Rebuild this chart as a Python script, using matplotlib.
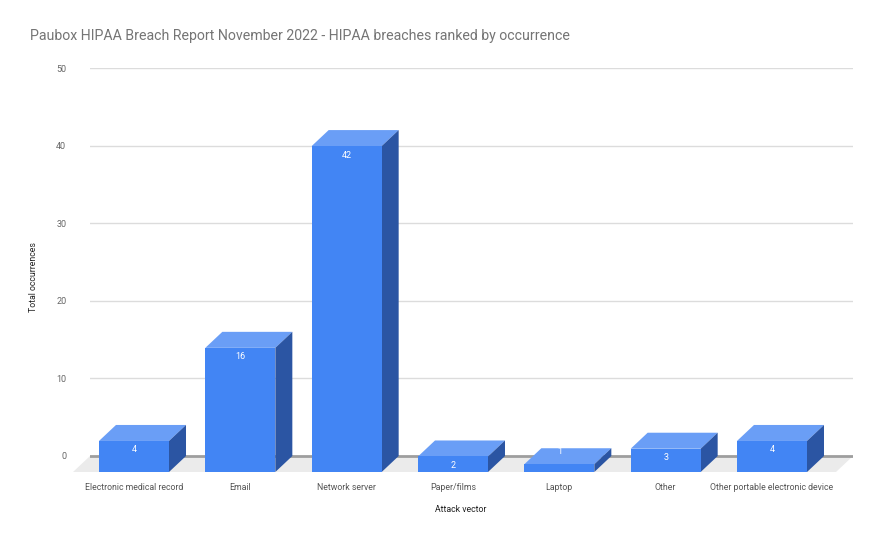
import numpy as np
import matplotlib
matplotlib.use("Agg")
from matplotlib import pyplot as plt
from matplotlib.patches import Polygon

# chart data
categories = ["Electronic medical record", "Email", "Network server", "Paper/films",
              "Laptop", "Other", "Other portable electronic device"]
occurrences = [4, 16, 42, 2, 1, 3, 4]
y_ticks = [0, 10, 20, 30, 40, 50]

plt.rcParams['font.family'] = ['Roboto', 'DejaVu Sans']

W, H = 880, 542
fig = plt.figure(figsize=(W / 100, H / 100), dpi=100)

# plot area in pixels: back wall 0 at y=456, 50 at y=68
px_left, px_right = 90, 853
ylo, yhi = -3, 50
px_per_unit = (456 - 68) / 50.0
px_top = 68
px_bottom = 456 - ylo * px_per_unit
ax = fig.add_axes([px_left / W, 1 - px_bottom / H,
                   (px_right - px_left) / W, (px_bottom - px_top) / H])

spacing = 106.33
DX = 17 / spacing          # depth offset (x, category units)
DY = 16 / px_per_unit      # depth offset (y, value units)
bw = 70 / spacing          # bar width
xmin = -(151 - px_left) / spacing
xmax = 6 + (px_right - 789) / spacing
ax.set_xlim(xmin, xmax)
ax.set_ylim(ylo, yhi)

for s in ax.spines.values():
    s.set_visible(False)

# floor
ax.add_patch(Polygon([(xmin, 0), (xmax, 0), (xmax - DX, -DY), (xmin - DX, -DY)],
                     closed=True, facecolor="#ebebeb", edgecolor="none", zorder=0,
                     clip_on=False))
for t in y_ticks[1:]:
    ax.axhline(t, color="#dcdcdc", lw=1, zorder=1)
ax.axhline(0, color="#9e9e9e", lw=2, zorder=1)

front_c, top_c, side_c = "#4285f4", "#6a9ef6", "#2b55a3"
for i, v in enumerate(occurrences):
    xl = i - DX - bw / 2
    xr = i - DX + bw / 2
    fb = -DY
    ft = v - DY
    ax.add_patch(Polygon([(xl, ft), (xr, ft), (xr + DX, ft + DY), (xl + DX, ft + DY)],
                         closed=True, facecolor=top_c, edgecolor="none", zorder=3))
    ax.add_patch(Polygon([(xr, fb), (xr, ft), (xr + DX, ft + DY), (xr + DX, fb + DY)],
                         closed=True, facecolor=side_c, edgecolor="none", zorder=3))
    ax.add_patch(Polygon([(xl, fb), (xr, fb), (xr, ft), (xl, ft)],
                         closed=True, facecolor=front_c, edgecolor="none", zorder=4))
    ly = ft - 9 / px_per_unit if v >= 2 else v - 0.48
    ax.text(i - DX, ly, str(v), color="white", fontsize=6.5, ha="center",
            va="center", zorder=5)

ax.set_yticks(y_ticks)
ax.set_yticklabels([str(t) for t in y_ticks])
ax.set_xticks([i - DX for i in range(len(categories))])
ax.set_xticklabels(categories)
ax.tick_params(axis="y", length=0, pad=17, labelsize=6.5, labelcolor="#666666")
ax.tick_params(axis="x", length=0, pad=3, labelsize=6.3, labelcolor="#555555")

fig.text(30 / W, 1 - 36 / H, "Paubox HIPAA Breach Report November 2022 - HIPAA breaches ranked by occurrence",
         fontsize=10.2, color="#757575", ha="left", va="center")
fig.text(461 / W, 1 - 509 / H, "Attack vector", fontsize=6.3, color="#222222",
         ha="center", va="center")
fig.text(33 / W, 1 - 277 / H, "Total occurrences", fontsize=6.3, color="#222222",
         ha="center", va="center", rotation=90)

fig.savefig("out.png", dpi=100)
